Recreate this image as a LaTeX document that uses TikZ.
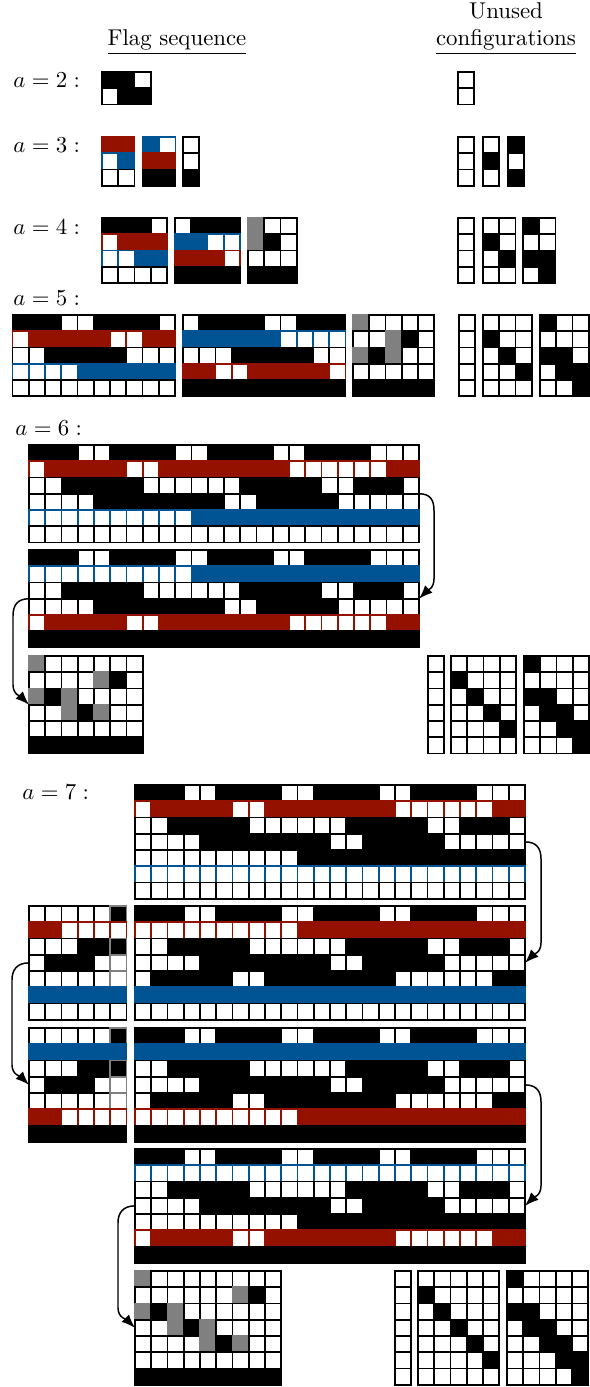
\documentclass[tikz,border=0pt]{standalone}
\usetikzlibrary{arrows.meta,calc}
\definecolor{cred}{RGB}{148,17,0}
\definecolor{cblue}{RGB}{0,84,147}
\definecolor{cgray}{RGB}{128,128,128}
\newcount\cellx
\def\cellsz{16.25}
\def\parsecells#1{\ifx#1\relax\else\drawcell{#1}\expandafter\parsecells\fi}
\def\drawcell#1{\path[c#1] (\gx+\the\cellx*\cellsz,\gy+\ri*\cellsz) rectangle ++(\cellsz,\cellsz);\global\advance\cellx by 1\relax}
\newcommand\cellgrid[6]{%
  \node[gridnode, minimum width=#4*0.25cm, minimum height=#5*0.25cm, anchor=north west] (#1) at (#2,#3) {};%
  \def\gx{#2}\def\gy{#3}%
  \foreach \rowstr [count=\ri from 0] in {#6} {%
    \global\cellx=0
    \expandafter\parsecells\rowstr\relax
  }%
}
\tikzset{
  gridnode/.style={inner sep=0pt, outer sep=0pt, draw=none},
  cell/.style={line width=0.68pt},
  cK/.style={cell, fill=black, draw=black},
  cW/.style={cell, fill=white, draw=black},
  cX/.style={cell, fill=white, draw=cred},
  cR/.style={cell, fill=cred, draw=cred},
  cY/.style={cell, fill=white, draw=cblue},
  cB/.style={cell, fill=cblue, draw=cblue},
  cG/.style={cell, fill=cgray, draw=cgray},
  cw/.style={cell, fill=white, draw=cgray},
  ck/.style={cell, fill=black, draw=cgray},
  lab/.style={inner sep=0pt, anchor=base west},
  head/.style={inner sep=0pt, anchor=base},
  flow/.style={-{Latex[length=6pt,width=4.6pt]}, line width=0.65pt},
}
\begin{document}
\begin{tikzpicture}[x=0.43773pt,y=-0.43773pt]
\useasboundingbox (0,0) rectangle (589,1387);
% headers
\node[head] (hflag) at (177,46) {\underline{Flag sequence}};
\node[head] (hunused) at (506,19) {Unused};
\node[head] (hconf) at (506,46) {\underline{configurations}};
% labels
\node[lab] (la2) at (13,88) {$a=2:$};
\node[lab] (la3) at (13,153) {$a=3:$};
\node[lab] (la4) at (13,235) {$a=4:$};
\node[lab] (la5) at (13,306) {$a=5:$};
\node[lab] (la6) at (15,435) {$a=6:$};
\node[lab] (la7) at (22,799) {$a=7:$};
% a=2
\cellgrid{g2}{102}{72}{3}{2}{KKW,WKK}
\cellgrid{u2}{458}{72}{1}{2}{W,W}
% a=3
\cellgrid{g3a}{102}{137}{2}{3}{RR,YB,WW}
\cellgrid{g3b}{143}{137}{2}{3}{BY,RR,KK}
\cellgrid{g3c}{183}{137}{1}{3}{W,W,K}
\cellgrid{u3a}{458}{137}{1}{3}{W,W,W}
\cellgrid{u3b}{483}{137}{1}{3}{W,K,W}
\cellgrid{u3c}{508}{137}{1}{3}{K,W,K}
% a=4
\cellgrid{g4a}{102}{218}{4}{4}{KKKW,XRRR,YYBB,WWWW}
\cellgrid{g4b}{175}{218}{4}{4}{WKKK,BBYY,RRRX,KKKK}
\cellgrid{g4c}{248}{218}{3}{4}{GWW,GKW,WWW,KKK}
\cellgrid{u4a}{458}{218}{1}{4}{W,W,W,W}
\cellgrid{u4b}{483}{218}{2}{4}{WW,KW,WK,WW}
\cellgrid{u4c}{523}{218}{2}{4}{KW,WW,KK,WK}
% a=5
\cellgrid{g5a}{12.5}{315}{10}{5}{KKKWWKKKKW,XRRRRRXXRR,WWKKKKKWWW,YYYYBBBBBB,WWWWWWWWWW}
\cellgrid{g5b}{183}{315}{10}{5}{WKKKKWWKKK,BBBBBBYYYY,WWWKKKKKWW,RRXXRRRRRX,KKKKKKKKKK}
\cellgrid{g5c}{353}{315}{5}{5}{GWWWW,WWGKW,GKGWW,WWWWW,KKKKK}
\cellgrid{u5a}{459}{315}{1}{5}{W,W,W,W,W}
\cellgrid{u5b}{483}{315}{3}{5}{WWW,KWW,WKW,WWK,WWW}
\cellgrid{u5c}{540}{315}{3}{5}{KWW,WWW,KKW,WKK,WWK}
% a=6
\cellgrid{A}{29}{445}{24}{6}{KKKWWKKKKWWKKKKWWKKKKWWW,
 XRRRRRXXRRRRRRRRXXXXXXRR,
 WWKKKKKWWWWWWKKKKKWWKKKW,
 WWWWKKKKKKKKWWKKKKKWWWWW,
 YYYYYYYYYYBBBBBBBBBBBBBB,
 WWWWWWWWWWWWWWWWWWWWWWWW}
\cellgrid{B}{29}{550}{24}{6}{KKKWWKKKKWWKKKKWWKKKKWWW,
 YYYYYYYYYYBBBBBBBBBBBBBB,
 WWKKKKKWWWWWWKKKKKWWKKKW,
 WWWWKKKKKKKKWWKKKKKWWWWW,
 XRRRRRXXRRRRRRRRXXXXXXRR,
 KKKKKKKKKKKKKKKKKKKKKKKK}
\cellgrid{C}{29}{656}{7}{6}{GWWWWWW,WWWWGKW,GKGWWWW,WWGKGWW,WWWWWWW,KKKKKKK}
\cellgrid{u6a}{428}{656}{1}{6}{W,W,W,W,W,W}
\cellgrid{u6b}{451}{656}{4}{6}{WWWW,KWWW,WKWW,WWKW,WWWK,WWWW}
\cellgrid{u6c}{524}{656}{4}{6}{KWWW,WWWW,KKWW,WKKW,WWKK,WWWK}
% a=7
\cellgrid{D}{135}{785}{24}{7}{KKKWWKKKKWWKKKKWWKKKKWWW,
 XRRRRRXXRRRRRRRRXXXXXXRR,
 WWKKKKKWWWWWWKKKKKWWKKKW,
 WWWWKKKKKKKKWWKKKKKWWWWW,
 WWWWWWWWWWKKKKKKKKKKKKKK,
 YYYYYYYYYYYYYYYYYYYYYYYY,
 WWWWWWWWWWWWWWWWWWWWWWWW}
\cellgrid{F}{29}{906}{6}{7}{WWWWWk,RRXXXX,WWWKKk,WKKKWw,WWWWWw,BBBBBB,WWWWWW}
\cellgrid{E}{135}{906}{24}{7}{KKKWWKKKKWWKKKKWWKKKKWWW,
 XXXXXXXXXXRRRRRRRRRRRRRR,
 WWKKKKKWWWWWWKKKKKWWKKKW,
 WWWWKKKKKKKKWWKKKKKWWWWW,
 WKKKKKWWKKKKKKKKWWWWWWKK,
 BBBBBBBBBBBBBBBBBBBBBBBB,
 WWWWWWWWWWWWWWWWWWWWWWWW}
\cellgrid{G}{29}{1028}{6}{7}{WWWWWk,BBBBBB,WWWKKk,WKKKWw,WWWWWw,RRXXXX,KKKKKK}
\cellgrid{H}{135}{1028}{24}{7}{KKKWWKKKKWWKKKKWWKKKKWWW,
 BBBBBBBBBBBBBBBBBBBBBBBB,
 WWKKKKKWWWWWWKKKKKWWKKKW,
 WWWWKKKKKKKKWWKKKKKWWWWW,
 WKKKKKWWKKKKKKKKWWWWWWKK,
 XXXXXXXXXXRRRRRRRRRRRRRR,
 KKKKKKKKKKKKKKKKKKKKKKKK}
\cellgrid{I}{135}{1149}{24}{7}{KKKWWKKKKWWKKKKWWKKKKWWW,
 YYYYYYYYYYYYYYYYYYYYYYYY,
 WWKKKKKWWWWWWKKKKKWWKKKW,
 WWWWKKKKKKKKWWKKKKKWWWWW,
 WWWWWWWWWWKKKKKKKKKKKKKK,
 XRRRRRXXRRRRRRRRXXXXXXRR,
 KKKKKKKKKKKKKKKKKKKKKKKK}
\cellgrid{J}{135}{1271}{9}{7}{GWWWWWWWW,WWWWWWGKW,GKGWWWWWW,WWGKGWWWW,WWWWGKGWW,WWWWWWWWW,KKKKKKKKK}
\cellgrid{u7a}{395}{1271}{1}{7}{W,W,W,W,W,W,W}
\cellgrid{u7b}{418}{1271}{5}{7}{WWWWW,KWWWW,WKWWW,WWKWW,WWWKW,WWWWK,WWWWW}
\cellgrid{u7c}{507}{1271}{5}{7}{KWWWW,WWWWW,KKWWW,WKKWW,WWKKW,WWWKK,WWWWK}
% arrows
\draw[flow] (A.east) .. controls +(12,0) and +(0,-10) .. ($(A.east)+(15,17)$) -- ($(B.east)+(15,-20)$) .. controls +(0,10) and +(8,-8) .. (B.east);
\draw[flow] (B.west) .. controls +(-12,0) and +(0,-10) .. ($(B.west)+(-16,17)$) -- ($(C.west)+(-16,-20)$) .. controls +(0,10) and +(-8,-8) .. (C.west);
\draw[flow] (D.east) .. controls +(12,0) and +(0,-10) .. ($(D.east)+(16,17)$) -- ($(E.east)+(16,-20)$) .. controls +(0,10) and +(8,-8) .. (E.east);
\draw[flow] (F.west) .. controls +(-12,0) and +(0,-10) .. ($(F.west)+(-17,17)$) -- ($(G.west)+(-17,-20)$) .. controls +(0,10) and +(-8,-8) .. (G.west);
\draw[flow] (H.east) .. controls +(12,0) and +(0,-10) .. ($(H.east)+(16,17)$) -- ($(I.east)+(16,-20)$) .. controls +(0,10) and +(8,-8) .. (I.east);
\draw[flow] (I.west) .. controls +(-12,0) and +(0,-10) .. ($(I.west)+(-17,17)$) -- ($(J.west)+(-17,-20)$) .. controls +(0,10) and +(-8,-8) .. (J.west);
\end{tikzpicture}
\end{document}
